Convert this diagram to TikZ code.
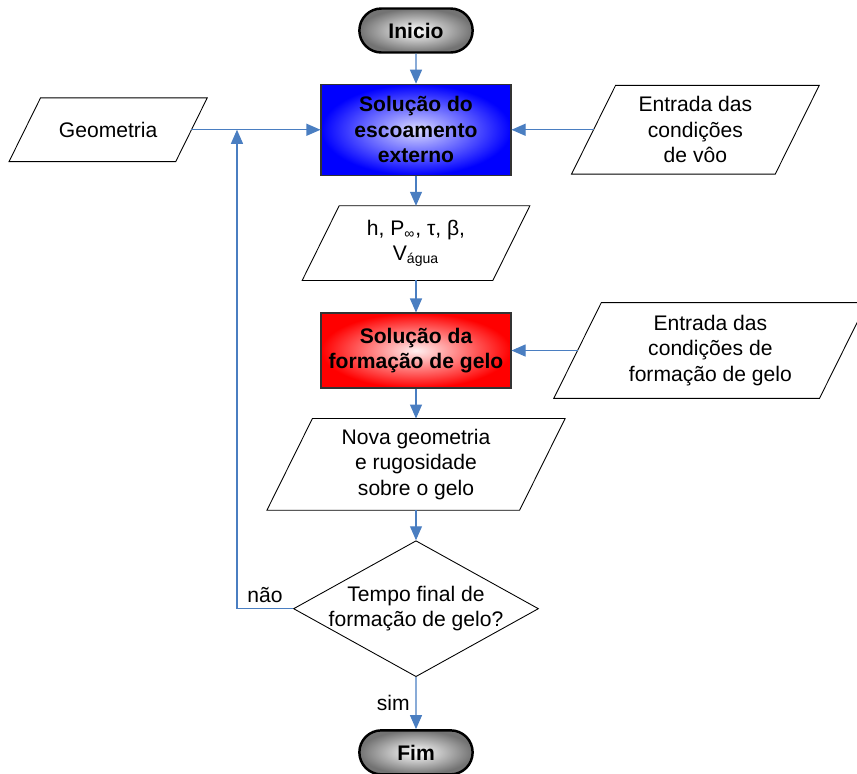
\documentclass[tikz,border=0pt]{standalone}
\usepackage{fontspec}
\setmainfont{Liberation Sans}
\usepackage{xcolor}
\usetikzlibrary{shapes,arrows.meta,positioning}
\definecolor{linha}{RGB}{74,126,193}

\begin{document}
\begin{tikzpicture}[
    node distance=0.6cm,
    font=\fontsize{12}{14.5}\selectfont,
    terminal/.style={rounded rectangle, draw, line width=1.4pt, minimum width=2.5cm, minimum height=0.88cm, inner color=white, outer color=black!55, font=\fontsize{12}{14.5}\selectfont\bfseries},
    process/.style={rectangle, draw=black!80, line width=0.6pt, minimum width=3.8cm, align=center, font=\fontsize{12}{14.5}\selectfont\bfseries},
    io/.style={rectangle, align=center, inner sep=0pt, append after command={\pgfextra{\draw[line width=0.5pt] ([xshift=#1]\tikzlastnode.north west) -- ([xshift=#1]\tikzlastnode.north east) -- ([xshift=-#1]\tikzlastnode.south east) -- ([xshift=-#1]\tikzlastnode.south west) -- cycle;}}},
    decision/.style={diamond, draw, line width=0.5pt, minimum width=4.9cm, minimum height=2.72cm, inner sep=0pt},
    arrow/.style={-{Triangle[length=0.28cm,width=0.24cm]}, linha, line width=0.6pt, text=black}
]
\useasboundingbox (0,0) rectangle (17.14,-15.46);

\node[terminal] (inicio) at (8.32,-0.61) {Inicio};
\node[process, below=of inicio, minimum height=1.82cm, inner color=blue!14!white, outer color=blue] (escext) {Solução do\\escoamento\\externo};
\node[io=0.37cm, below=of escext, minimum width=3.8cm, minimum height=1.48cm] (param) {h, P\textsubscript{∞}, τ, β,\\V\textsubscript{água}};
\node[process, below=0.64cm of param, minimum height=1.5cm, inner color=red!6!white, outer color=red] (gelo) {Solução da\\formação de gelo};
\node[io=0.455cm, below=of gelo, minimum width=5.04cm, minimum height=1.82cm] (nova) {Nova geometria\\e rugosidade\\sobre o gelo};
\node[decision, below=of nova, label={[align=center]center:Tempo final de\\formação de gelo?}] (tempo) {};
\node[terminal, below=1.04cm of tempo] (fim) {Fim};

\node[io=0.315cm, left=2.58cm of escext, minimum width=3.32cm, minimum height=1.26cm] (geom) {Geometria};
\node[io=0.44cm, right=1.64cm of escext, minimum width=4.06cm, minimum height=1.76cm] (voo) {Entrada das\\condições\\de vôo};
\node[io=0.475cm, right=1.32cm of gelo, minimum width=5.3cm, minimum height=1.9cm] (condgelo) {Entrada das\\condições de\\formação de gelo};
\coordinate[right=0.91cm of geom.east] (volta);

\draw[arrow] (inicio) -- (escext);
\draw[arrow] (escext) -- (param);
\draw[arrow] (param) -- (gelo);
\draw[arrow] (gelo) -- (nova);
\draw[arrow] (nova) -- (tempo);
\draw[arrow] (tempo) -- node[left]{sim} (fim);
\draw[arrow] (geom) -- (escext);
\draw[arrow] (voo) -- (escext);
\draw[arrow] (condgelo) -- (gelo);
\draw[arrow] (tempo.west) -- (tempo.west -| volta) node[midway, above]{não} -- (volta);
\end{tikzpicture}
\end{document}
